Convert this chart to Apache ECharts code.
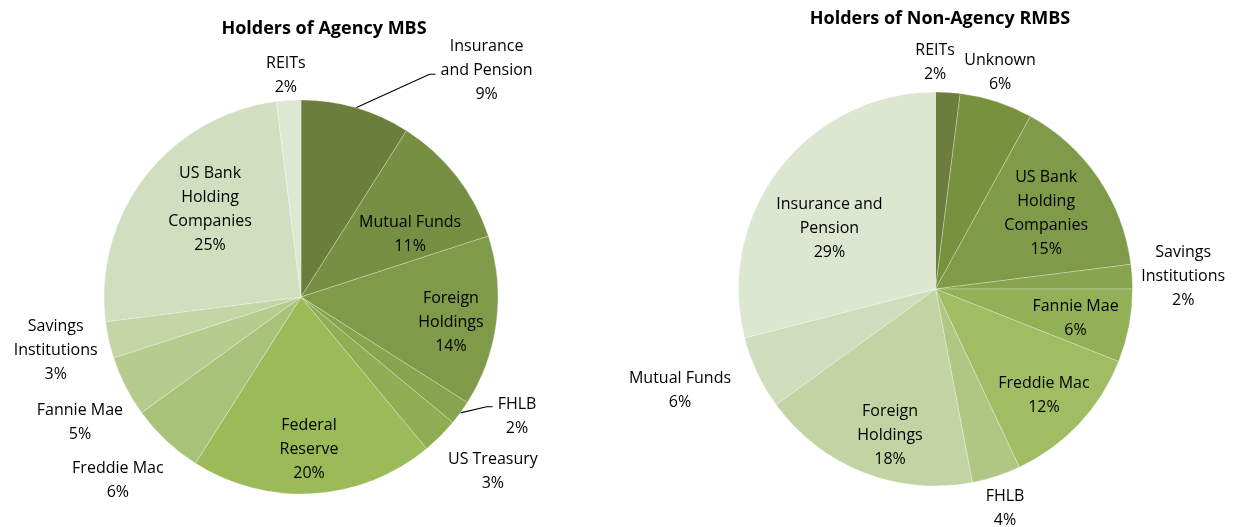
<!DOCTYPE html>
<html>
<head>
<meta charset="utf-8">
<script src="https://cdn.jsdelivr.net/npm/echarts@6/dist/echarts.min.js"></script>
<style>
  body { margin: 0; background: #fff; }
  #chart { width: 1236px; height: 527px; }
</style>
</head>
<body>
<div id="chart"></div>
<script>
// data (shares in percent, clockwise from 12 o'clock)
const agencyNames = ['Insurance\nand Pension', 'Mutual Funds', 'Foreign\nHoldings', 'FHLB', 'US Treasury',
  'Federal\nReserve', 'Freddie Mac', 'Fannie Mae', 'Savings\nInstitutions', 'US Bank\nHolding\nCompanies', 'REITs'];
const agencyShares = [9, 11, 14, 2, 3, 20, 6, 5, 3, 25, 2];

const nonAgencyNames = ['REITs', 'Unknown', 'US Bank\nHolding\nCompanies', 'Savings\nInstitutions', 'Fannie Mae',
  'Freddie Mac', 'FHLB', 'Foreign\nHoldings', 'Mutual Funds', 'Insurance and\nPension'];
const nonAgencyShares = [2, 6, 15, 2, 6, 12, 4, 18, 6, 29];

// styling
const agencyColors = ['#6b7e3b', '#778f42', '#7f9a48', '#87a44f', '#8fae54', '#9bbb59',
  '#a9c27a', '#b6cc8e', '#c4d5a6', '#d2dec0', '#dee7d1'];
const nonAgencyColors = ['#6b7e3b', '#77913f', '#7f9a48', '#87a44f', '#92b056', '#a0bd64',
  '#b0c784', '#c2d4a4', '#d0dcbc', '#dde6d0'];

// label distance from centre (px) and angle shift from the slice middle (deg)
const agencyLabelDist = [293, 126, 152, 247, 259, 153, 259, 254, 251, 126, 222];
const agencyLabelTurn = [23.1, 7.8, 2.3, -7, -2.8, 0.6, 1.8, -2.5, 0.4, 6, -0.3];
const nonAgencyLabelDist = [227, 226, 134, 248, 143, 152, 230, 153, 275, 122];
const nonAgencyLabelTurn = [-3.7, -1.4, -0.1, 0.7, 0.9, 1.3, 0.4, -4.3, 3.5, -8.2];

// which labels get a leader line, and where it meets the label (y offset from label centre)
const agencyLeaders = { 0: 4, 3: -10 };
const nonAgencyLeaders = {};

const FONT = '"Open Sans", Lato, sans-serif';
const R = 197;
const agencyCenter = [301, 297];
const nonAgencyCenter = [935.5, 289];

function midAngles(values) {
  const total = values.reduce((a, b) => a + b, 0);
  let acc = 0;
  return values.map(v => {
    const m = (acc + v / 2) / total * 360;
    acc += v;
    return m;
  });
}

function makeLayout(values, center, dist, turn, leaders) {
  const mids = midAngles(values);
  return function (p) {
    const i = p.dataIndex;
    const a = (mids[i] + turn[i]) * Math.PI / 180;
    const x = center[0] + dist[i] * Math.sin(a);
    const y = center[1] - dist[i] * Math.cos(a);
    const out = { x: x, y: y, align: 'center', verticalAlign: 'middle' };
    if (leaders[i] !== undefined) {
      const m = mids[i] * Math.PI / 180;
      const p0 = [center[0] + R * Math.sin(m), center[1] - R * Math.cos(m)];
      const left = x - p.labelRect.width / 2;
      const p2 = [left - 5, y + leaders[i]];
      const p1 = [p2[0] - 6, p2[1]];
      out.labelLinePoints = [p0, p1, p2];
    }
    return out;
  };
}

function buildData(names, values, colors, leaders) {
  return names.map((n, i) => ({
    name: n,
    value: values[i],
    itemStyle: { color: colors[i] },
    labelLine: { show: leaders[i] !== undefined }
  }));
}

function pieSeries(names, values, colors, center, dist, turn, leaders) {
  return {
    type: 'pie',
    center: center,
    radius: R,
    startAngle: 90,
    clockwise: true,
    avoidLabelOverlap: false,
    animation: false,
    silent: true,
    itemStyle: { borderColor: 'rgba(255,255,255,0.45)', borderWidth: 0.6 },
    label: {
      show: true,
      position: 'outside',
      formatter: '{b}\n{c}%',
      fontFamily: FONT,
      fontSize: 16,
      lineHeight: 24,
      color: '#000',
      align: 'center'
    },
    labelLine: { lineStyle: { color: '#000', width: 1.2 }, smooth: false },
    labelLayout: makeLayout(values, center, dist, turn, leaders),
    data: buildData(names, values, colors, leaders)
  };
}

const chart = echarts.init(document.getElementById('chart'));
chart.setOption({
  backgroundColor: '#fff',
  title: [
    { text: 'Holders of Agency MBS', left: 319, top: 15, textAlign: 'center',
      textStyle: { fontFamily: FONT, fontWeight: 'bold', fontSize: 18, color: '#000' } },
    { text: 'Holders of Non-Agency RMBS', left: 935, top: 5, textAlign: 'center',
      textStyle: { fontFamily: FONT, fontWeight: 'bold', fontSize: 18, color: '#000' } }
  ],
  series: [
    pieSeries(agencyNames, agencyShares, agencyColors, agencyCenter, agencyLabelDist, agencyLabelTurn, agencyLeaders),
    pieSeries(nonAgencyNames, nonAgencyShares, nonAgencyColors, nonAgencyCenter, nonAgencyLabelDist, nonAgencyLabelTurn, nonAgencyLeaders)
  ]
});
</script>
</body>
</html>
